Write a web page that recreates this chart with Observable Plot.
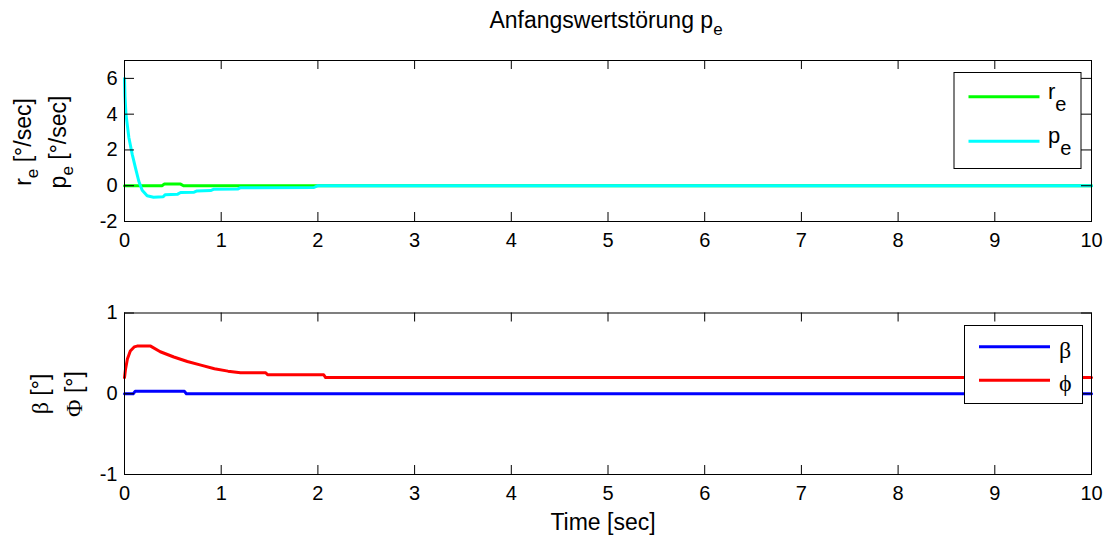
<!DOCTYPE html>
<html>
<head>
<meta charset="utf-8">
<script src="https://cdn.jsdelivr.net/npm/d3@7"></script>
<script src="https://cdn.jsdelivr.net/npm/@observablehq/plot@0.6"></script>
<style>
  html, body { margin: 0; padding: 0; background: #fff; }
  #fig { position: relative; width: 1109px; height: 537px; background: #fff; overflow: hidden; }
  #fig > svg { position: absolute; left: 0; }
</style>
</head>
<body>
<div id="fig"></div>
<script>
// Tick values
const xTicks = [0, 1, 2, 3, 4, 5, 6, 7, 8, 9, 10];
const yTicksTop = [-2, 0, 2, 4, 6];
const yTicksBottom = [-1, 0, 1];

// Upper panel: yaw rate r_e and roll rate p_e [°/sec] over time [sec]
const tR = [0, 0.39, 0.41, 0.58, 0.61, 10];
const rE = [0, 0, 0.09, 0.09, 0, 0];
const tP = [0, 0.005, 0.015, 0.045, 0.08, 0.114, 0.148, 0.183, 0.234, 0.30, 0.40, 0.42, 0.55, 0.58, 0.72, 0.75, 0.89, 0.92, 1.17, 1.20, 1.96, 2.0, 10];
const pE = [6.0, 5.0, 4.0, 2.7, 1.75, 0.98, 0.25, -0.25, -0.56, -0.64, -0.62, -0.5, -0.47, -0.38, -0.36, -0.29, -0.27, -0.2, -0.19, -0.11, -0.1, 0, 0];

// Lower panel: sideslip angle β and bank angle Φ [°] over time [sec]
const tBeta = [0, 0.09, 0.11, 0.62, 0.64, 10];
const beta = [0, 0, 0.03, 0.03, 0, 0];
const tPhi = [0, 0.01, 0.03, 0.06, 0.1, 0.13, 0.27, 0.37, 0.51, 0.65, 0.79, 0.93, 1.07, 1.2, 1.46, 1.48, 2.06, 2.08, 10];
const phi = [0.2, 0.3, 0.43, 0.53, 0.58, 0.59, 0.59, 0.52, 0.455, 0.4, 0.355, 0.31, 0.28, 0.26, 0.26, 0.235, 0.235, 0.2, 0.2];

const SANS = '"Liberation Sans", Arial, Helvetica, sans-serif';
const SERIF = '"Liberation Serif", "DejaVu Serif", "Times New Roman", serif';
const W = 1109, H = 537;
const ML = 124, MR = 18;

const rows = (t, v) => t.map((d, i) => ({t: d, v: v[i]}));

function panel({height, marginTop, marginBottom, yDomain, yTicks, series}) {
  const innerH = height - marginTop - marginBottom;
  const innerW = W - ML - MR;
  return Plot.plot({
    width: W, height, marginTop, marginBottom, marginLeft: ML, marginRight: MR,
    x: {domain: [0, 10]},
    y: {domain: yDomain},
    style: {fontFamily: SANS, fontSize: "20px", color: "#000", background: "transparent", overflow: "visible"},
    marks: [
      ...series.map(s => Plot.line(s.data, {x: "t", y: "v", stroke: s.color, strokeWidth: 3, strokeLinejoin: "round"})),
      // inward ticks on all four sides
      Plot.tickX(xTicks, {x: d => d, insetTop: innerH - 9, stroke: "#000"}),
      Plot.tickX(xTicks, {x: d => d, insetBottom: innerH - 9, stroke: "#000"}),
      Plot.tickY(yTicks, {y: d => d, insetRight: innerW - 10, stroke: "#000"}),
      Plot.tickY(yTicks, {y: d => d, insetLeft: innerW - 10, stroke: "#000"}),
      Plot.frame({stroke: "#000"}),
      Plot.axisX(xTicks, {anchor: "bottom", tickSize: 0, tickPadding: 11, label: null, tickFormat: d => String(d)}),
      Plot.axisY(yTicks, {anchor: "left", tickSize: 0, tickPadding: 7, label: null, tickFormat: d => String(d)})
    ]
  });
}

const fig = document.getElementById("fig");

const upperPanel = panel({
  height: 270, marginTop: 60, marginBottom: 49,
  yDomain: [-2, 7], yTicks: yTicksTop,
  series: [
    {data: rows(tR, rE), color: "#00ff00"},
    {data: rows(tP, pE), color: "#00ffff"}
  ]
});
upperPanel.style.top = "0px";
fig.appendChild(upperPanel);

const lowerPanel = panel({
  height: 267, marginTop: 42.5, marginBottom: 63,
  yDomain: [-1, 1], yTicks: yTicksBottom,
  series: [
    {data: rows(tBeta, beta), color: "#0000ff"},
    {data: rows(tPhi, phi), color: "#ff0000"}
  ]
});
lowerPanel.style.top = "270px";
fig.appendChild(lowerPanel);

// Title, axis labels and legends
const ov = d3.select(fig).append("svg")
  .attr("width", W).attr("height", H)
  .style("top", "0px")
  .attr("font-family", SANS);

const title = ov.append("text").attr("x", 606).attr("y", 28)
  .attr("text-anchor", "middle").attr("font-size", 23);
title.append("tspan").text("Anfangswertstörung p");
title.append("tspan").attr("font-size", 17).attr("dy", 7).text("e");

ov.append("text").attr("x", 603).attr("y", 530)
  .attr("text-anchor", "middle").attr("font-size", 23).text("Time [sec]");

function subLabel(g, main, sub, rest) {
  const t = g.append("text").attr("text-anchor", "middle").attr("font-size", 23);
  t.append("tspan").text(main);
  t.append("tspan").attr("font-size", 17).attr("dy", 7).text(sub);
  t.append("tspan").attr("dy", -7).text(rest);
}
subLabel(ov.append("g").attr("transform", "translate(31,142) rotate(-90)"), "r", "e", " [°/sec]");
subLabel(ov.append("g").attr("transform", "translate(66,142) rotate(-90)"), "p", "e", " [°/sec]");

function greekLabel(g, letter, rest) {
  const t = g.append("text").attr("text-anchor", "middle").attr("font-size", 23);
  t.append("tspan").attr("font-family", SERIF).attr("font-size", 24).text(letter);
  t.append("tspan").text(rest);
}
greekLabel(ov.append("g").attr("transform", "translate(48,394) rotate(-90)"), "β", " [°]");
greekLabel(ov.append("g").attr("transform", "translate(81.5,394) rotate(-90)"), "Φ", " [°]");

// Legend, upper panel
const leg1 = ov.append("g");
leg1.append("rect").attr("x", 954).attr("y", 72.5).attr("width", 127).attr("height", 96)
  .attr("fill", "#fff").attr("stroke", "#000");
[["r", "e", "#00ff00", 96.7], ["p", "e", "#00ffff", 141.3]].forEach(([m, s, c, y]) => {
  leg1.append("line").attr("x1", 968.5).attr("x2", 1039.5).attr("y1", y).attr("y2", y)
    .attr("stroke", c).attr("stroke-width", 3);
  const t = leg1.append("text").attr("x", 1048).attr("y", y + 2).attr("font-size", 22);
  t.append("tspan").text(m);
  t.append("tspan").attr("dy", 12).attr("font-size", 20).text(s);
});

// Legend, lower panel
const leg2 = ov.append("g");
leg2.append("rect").attr("x", 964.5).attr("y", 325.5).attr("width", 118).attr("height", 78)
  .attr("fill", "#fff").attr("stroke", "#000");
[["β", "#0000ff", 346.7], ["ϕ", "#ff0000", 380.3]].forEach(([m, c, y]) => {
  leg2.append("line").attr("x1", 979).attr("x2", 1050).attr("y1", y).attr("y2", y)
    .attr("stroke", c).attr("stroke-width", 3);
  leg2.append("text").attr("x", 1059).attr("y", y + 11).attr("font-size", 24)
    .attr("font-family", SERIF).text(m);
});
</script>
</body>
</html>
